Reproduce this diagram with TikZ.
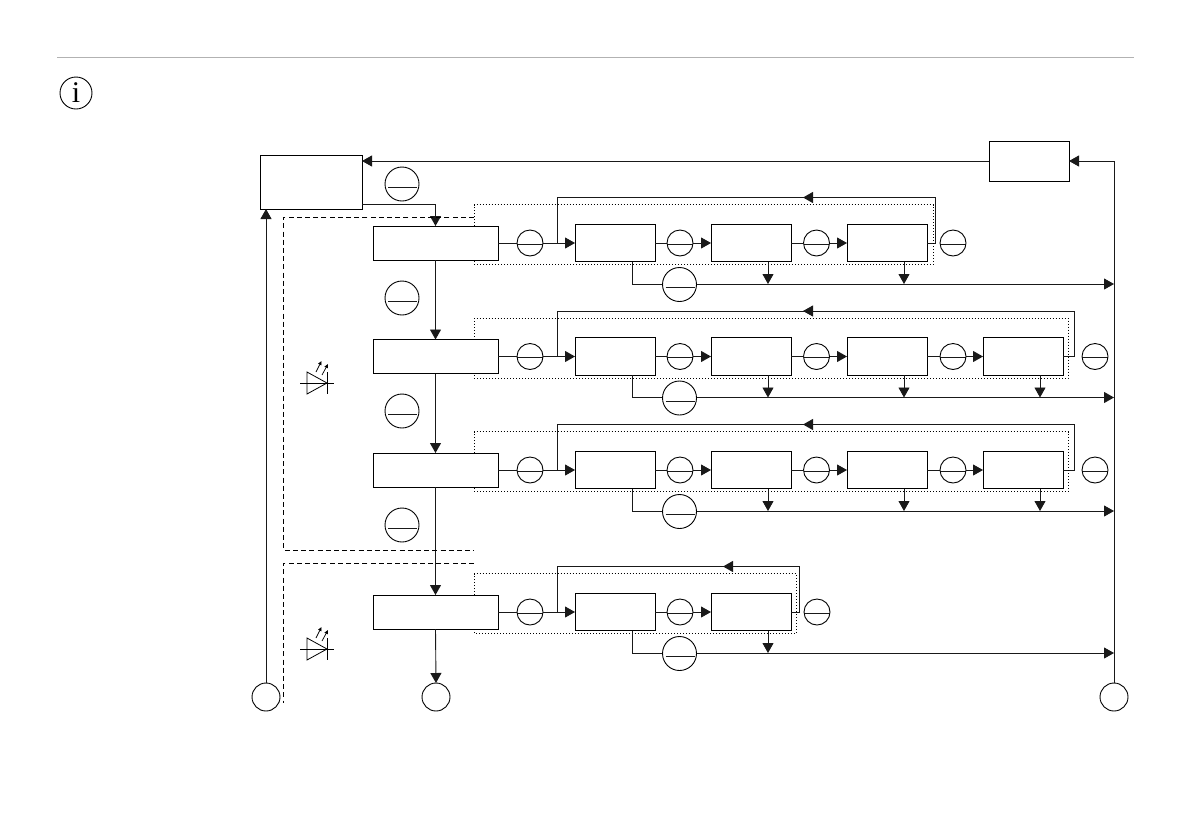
\documentclass[tikz,border=0pt]{standalone}
\usepackage{xcolor}
\usepackage{fontspec}
\setmainfont{Liberation Serif}
\usetikzlibrary{arrows.meta,calc}

\tikzset{
    wire/.style={line width=0.9pt,color=black!90},
    flow/.style={wire,-{Triangle[length=10pt,width=11pt]}},
    dashline/.style={line width=0.9pt,dash pattern=on 5pt off 3.2pt},
    dotline/.style={line width=0.9pt,dash pattern=on 1pt off 2pt},
    block/.style={rectangle,draw,line width=0.9pt,inner sep=0pt,outer sep=0pt},
    mainbox/.style={block,minimum width=125pt,minimum height=34pt},
    stagebox/.style={block,minimum width=80pt,minimum height=37.5pt},
    port/.style={circle,draw,line width=0.9pt,inner sep=0pt,outer sep=0pt,minimum size=28pt},
    disc/.style={port,minimum size=26pt,
        path picture={\draw[wire] ([yshift=-1pt]path picture bounding box.west) -- ([yshift=-1pt]path picture bounding box.east);}},
    bigdisc/.style={port,minimum size=34pt,
        path picture={\draw[wire] ([xshift=3pt,yshift=-3pt]path picture bounding box.west) -- ([xshift=-2pt,yshift=-3pt]path picture bounding box.east);}},
}

\begin{document}
\begin{tikzpicture}[x=1pt,y=-1pt]
    \useasboundingbox (0,0) rectangle (1191,839);

    % Header
    \draw[black!30,line width=0.9pt] (57,57) -- (1134,57);
    \node[port,minimum size=32pt] (info) at (76,93) {\fontsize{30}{30}\selectfont i};

    % Top blocks and terminals
    \node[block,minimum width=102pt,minimum height=54pt] (ctrl) at (311,182) {};
    \node[block,minimum width=80pt,minimum height=40pt] (aux) at (1029,161) {};
    \node[port] (pl) at (266,697) {};
    \node[port] (pm) at (436,697) {};
    \node[port] (pr) at (1114,697) {};

    % Rows: number / centre / last stage / loop right / dotted right / loop arrow / end disc
    \foreach \r/\yc/\n/\xr/\xd/\xa/\xe in {1/243/3/935/933/803/953,
                                           2/356.5/4/1074/1068/803/1095,
                                           3/470/4/1074/1068/803/1095,
                                           4/612/2/799.5/796/723/817} {
        \node[mainbox] (m\r) at (435.5,\yc) {};
        \node[disc] (d\r) at (530,\yc) {};
        \draw[wire] (m\r.east) -- (d\r.west);

        % Stages
        \foreach \k [evaluate=\k as \bx using 615+136*(\k-1)] in {1,...,\n} {
            \node[stagebox] (b\r\k) at (\bx,\yc) {};
        }
        \draw[flow] (d\r.east) -- (b\r1.west);
        \foreach \k [evaluate=\k as \cx using 680+136.5*(\k-2)] in {2,...,\n} {
            \pgfmathtruncatemacro{\p}{\k-1}
            \node[disc] (c\r\k) at (\cx,\yc) {};
            \draw[wire] (b\r\p.east) -- (c\r\k.west);
            \draw[flow] (c\r\k.east) -- (b\r\k.west);
        }
        \node[disc] (e\r) at (\xe,\yc) {};

        % Feedback loop
        \coordinate (j\r) at (557,\yc);
        \coordinate (tr\r) at (\xr,\yc-45.5);
        \coordinate (ta\r) at (\xa,\yc-45.5);
        \draw[wire] (b\r\n.east) -| (tr\r) -- (tr\r -| j\r) -- (j\r);
        \draw[flow] (tr\r) -- (ta\r);

        % Dotted frame
        \draw[dotline] (474,\yc-17) |- (\xd,\yc-38.5) |- (474,\yc+21.5) -- (474,\yc+17);

        % Output bus
        \coordinate (bs\r) at ($(b\r1.south)+(17,0)$);
        \coordinate (be\r) at (1114,\yc+41);
        \draw[flow] (bs\r) |- (be\r);
        \node[bigdisc,fill=white] (g\r) at (679.5,\yc+41.5) {};
        \foreach \k in {2,...,\n} {
            \coordinate (s\r\k) at ($(b\r\k.south)+(17,0)$);
            \draw[flow] (s\r\k) -- (s\r\k |- be\r);
        }
    }

    % Main chain
    \coordinate (ctrlout) at (362,204);
    \draw[flow] (ctrlout) -| (m1.north);
    \draw[flow] (m1.south) -- (m2.north);
    \draw[flow] (m2.south) -- (m3.north);
    \draw[flow] (m3.south) -- (m4.north);
    \draw[flow] (m4.south) -- (pm.north);
    \foreach \i/\y in {1/184,2/298,3/411,4/525} {
        \node[bigdisc] (t\i) at (402,\y) {};
    }

    % Return paths
    \coordinate (corner) at (aux.east -| pr);
    \draw[flow] (pr.north) -- (corner) -- (aux.east);
    \draw[flow] (aux.west) -- (aux.west -| ctrl.east);
    \draw[flow] (pl.north) -- (pl.north |- ctrl.south);

    % Dashed zones
    \draw[dashline] (474,217) -- (283.5,217) -- (283.5,550) -- (474,550);
    \draw[dashline] (474,563) -- (283.5,563) -- (283.5,703);

    % LEDs
    \foreach \ly in {383,649} {
        \draw[line width=0.8pt] (300,\ly) -- (334,\ly);
        \draw[line width=0.8pt] (307,\ly-11) -- (327,\ly) -- (307,\ly+11) -- cycle;
        \draw[line width=0.8pt] (327,\ly-11) -- (327,\ly+11);
        \draw[line width=0.7pt,-{Triangle[length=4pt,width=3.5pt]}] (316,\ly-11) -- (321.5,\ly-22);
        \draw[line width=0.7pt,-{Triangle[length=4pt,width=3.5pt]}] (322,\ly-8) -- (328,\ly-19);
    }
\end{tikzpicture}
\end{document}
